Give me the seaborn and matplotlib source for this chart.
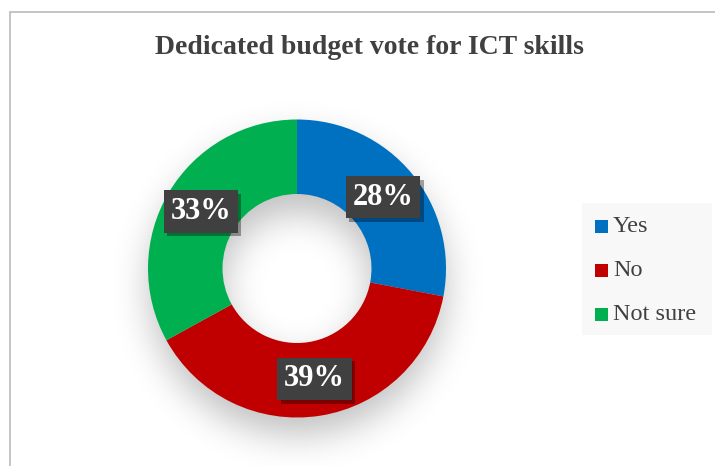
import numpy as np
import matplotlib
matplotlib.use("Agg")
import matplotlib.pyplot as plt
import seaborn as sns
from matplotlib.patches import Rectangle
from matplotlib import patheffects as pe

sns.set_theme(style="white")
plt.rcParams["font.family"] = ["Liberation Serif", "DejaVu Serif"]

title = "Dedicated budget vote for ICT skills"
categories = ["Yes", "No", "Not sure"]
shares = [28, 39, 33]
colors = sns.color_palette(["#0070C0", "#C00000", "#00B050"])

W, H = 715, 466
fig = plt.figure(figsize=(W / 100, H / 100), dpi=100)
fig.patch.set_facecolor("white")

# chart area frame (top and left edges visible)
fig.add_artist(Rectangle((10 / W, -0.1), 1.2, 1.1 - 12 / H,
                         transform=fig.transFigure, fill=False,
                         edgecolor="#BFBFBF", linewidth=1.3))

# donut axes
cx, cy, r = 297, 466 - 268.5, 149
ax = fig.add_axes([(cx - r) / W, (cy - r) / H, 2 * r / W, 2 * r / H])

# soft drop shadow under the ring
n = 400
g = np.linspace(-1.5, 1.5, n)
X, Y = np.meshgrid(g, g)
Rd = np.hypot(X, Y + 0.12)
mask = ((Rd <= 1.0) & (Rd >= 0.5)).astype(float)
k = np.fft.fftfreq(n, d=g[1] - g[0])
KX, KY = np.meshgrid(k, k)
sigma = 0.12
blur = np.real(np.fft.ifft2(np.fft.fft2(mask) * np.exp(-2 * (np.pi * sigma) ** 2 * (KX ** 2 + KY ** 2))))
blur = np.clip(blur, 0, 1)
shadow = np.zeros((n, n, 4))
shadow[..., 3] = blur * 0.25
ax.imshow(shadow, extent=[-1.5, 1.5, -1.5, 1.5], origin="lower",
          zorder=0, interpolation="bilinear", clip_on=False)

wedges, _ = ax.pie(shares, colors=colors, startangle=90, counterclock=False,
                   radius=1.0, wedgeprops=dict(width=0.5, linewidth=0))
for w in wedges:
    w.set_zorder(2)
ax.set_xlim(-1, 1)
ax.set_ylim(-1, 1)
ax.set_aspect("equal")
ax.axis("off")

# value labels on dark boxes
for w, v in zip(wedges, shares):
    ang = np.deg2rad((w.theta1 + w.theta2) / 2)
    x, y = 0.75 * np.cos(ang), 0.75 * np.sin(ang)
    t = ax.text(x, y, f"{v}%", ha="center", va="center", fontsize=22,
                fontweight="bold", color="white", zorder=4,
                bbox=dict(boxstyle="square,pad=0.22", facecolor="#404040",
                          edgecolor="none"))
    t.get_bbox_patch().set_path_effects([
        pe.SimplePatchShadow(offset=(2.5, -2.5), shadow_rgbFace="black", alpha=0.35),
        pe.Normal()])

# title
fig.text(369 / W, 1 - 47 / H, title, ha="center", va="center",
         fontsize=20, fontweight="bold", color="#404040")

# legend
fig.add_artist(Rectangle((582 / W, 1 - 335 / H), 130 / W, 132 / H,
                         transform=fig.transFigure, facecolor="#F8F8F8",
                         edgecolor="none"))
for i, (cat, c) in enumerate(zip(categories, colors)):
    yy = 1 - (226 + 44 * i) / H
    fig.add_artist(Rectangle((595 / W, yy - 6.5 / H), 13 / W, 13 / H,
                             transform=fig.transFigure, facecolor=c,
                             edgecolor="none"))
    fig.text(613 / W, yy, cat, ha="left", va="center", fontsize=17.5,
             color="#404040")

fig.savefig("out.png", dpi=100, facecolor="white")
